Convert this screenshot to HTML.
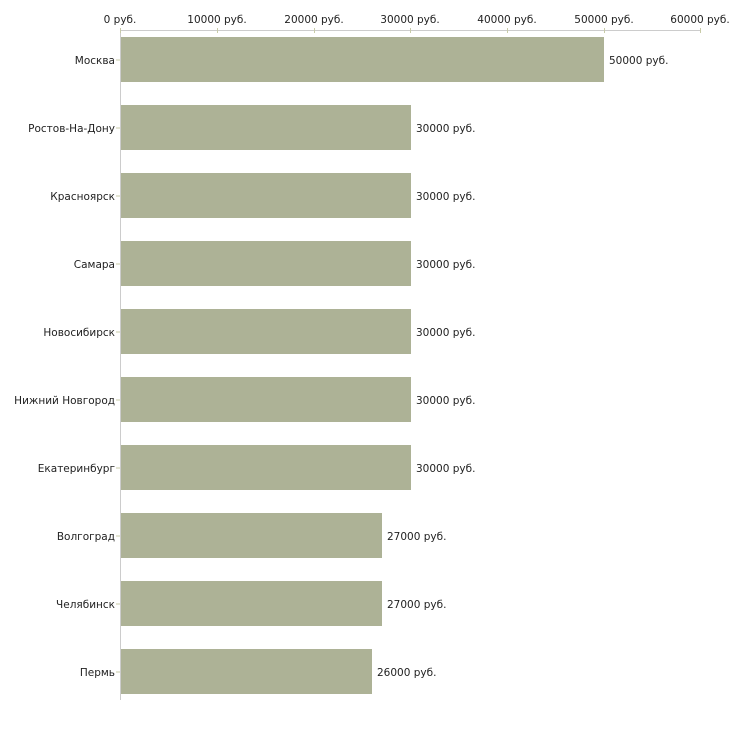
<!DOCTYPE html>
<html><head><meta charset="utf-8"><style>body{margin:0;background:#fff}svg{display:block}text{font-family:"DejaVu Sans","Liberation Sans",sans-serif;font-size:10.5px;fill:#222}</style></head><body>
<svg width="730" height="730" xmlns="http://www.w3.org/2000/svg">
<line x1="120" y1="30.5" x2="701" y2="30.5" stroke="#ccc"/>
<line x1="120.5" y1="30" x2="120.5" y2="700" stroke="#ccc"/>
<g stroke="#c8cba8">
<line x1="120.5" y1="28" x2="120.5" y2="33"/><line x1="217.5" y1="28" x2="217.5" y2="33"/><line x1="314.5" y1="28" x2="314.5" y2="33"/><line x1="410.5" y1="28" x2="410.5" y2="33"/><line x1="507.5" y1="28" x2="507.5" y2="33"/><line x1="604.5" y1="28" x2="604.5" y2="33"/><line x1="700.5" y1="28" x2="700.5" y2="33"/>
</g>
<g text-anchor="middle">
<text x="120" y="23">0 руб.</text><text x="217" y="23">10000 руб.</text><text x="314" y="23">20000 руб.</text><text x="410" y="23">30000 руб.</text><text x="507" y="23">40000 руб.</text><text x="604" y="23">50000 руб.</text><text x="700" y="23">60000 руб.</text>
</g>
<g fill="#adb296">
<rect x="121" y="37" width="483" height="45"/>
<rect x="121" y="105" width="290" height="45"/>
<rect x="121" y="173" width="290" height="45"/>
<rect x="121" y="241" width="290" height="45"/>
<rect x="121" y="309" width="290" height="45"/>
<rect x="121" y="377" width="290" height="45"/>
<rect x="121" y="445" width="290" height="45"/>
<rect x="121" y="513" width="261" height="45"/>
<rect x="121" y="581" width="261" height="45"/>
<rect x="121" y="649" width="251" height="45"/>
</g>
<g stroke="#c8cba8">
<line x1="116" y1="60" x2="120" y2="60"/><line x1="116" y1="128" x2="120" y2="128"/><line x1="116" y1="196" x2="120" y2="196"/><line x1="116" y1="264" x2="120" y2="264"/><line x1="116" y1="332" x2="120" y2="332"/><line x1="116" y1="400" x2="120" y2="400"/><line x1="116" y1="468" x2="120" y2="468"/><line x1="116" y1="536" x2="120" y2="536"/><line x1="116" y1="604" x2="120" y2="604"/><line x1="116" y1="672" x2="120" y2="672"/>
</g>
<g text-anchor="end">
<text x="115" y="64">Москва</text><text x="115" y="132">Ростов-На-Дону</text><text x="115" y="200">Красноярск</text><text x="115" y="268">Самара</text><text x="115" y="336">Новосибирск</text><text x="115" y="404">Нижний Новгород</text><text x="115" y="472">Екатеринбург</text><text x="115" y="540">Волгоград</text><text x="115" y="608">Челябинск</text><text x="115" y="676">Пермь</text>
</g>
<g>
<text x="609" y="64">50000 руб.</text><text x="416" y="132">30000 руб.</text><text x="416" y="200">30000 руб.</text><text x="416" y="268">30000 руб.</text><text x="416" y="336">30000 руб.</text><text x="416" y="404">30000 руб.</text><text x="416" y="472">30000 руб.</text><text x="387" y="540">27000 руб.</text><text x="387" y="608">27000 руб.</text><text x="377" y="676">26000 руб.</text>
</g>
</svg>
</body></html>
